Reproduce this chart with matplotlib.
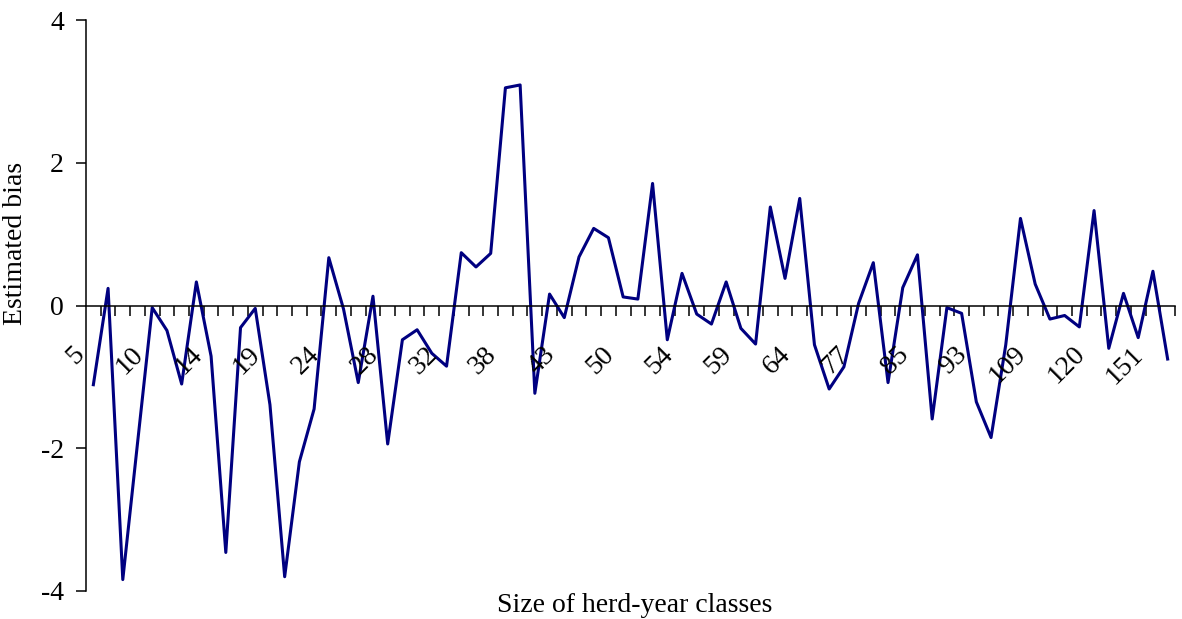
import numpy as np
import matplotlib
matplotlib.use("Agg")
import matplotlib.pyplot as plt
from matplotlib.transforms import ScaledTranslation

plt.rcParams['font.family'] = ['Liberation Serif', 'DejaVu Serif']
plt.rcParams['axes.unicode_minus'] = False

# herd-year class sizes (only every 4th one is labelled on the chart)
herd_sizes = [5, 6, 7, 8, 10, 11, 12, 13, 14, 15, 17, 18, 19, 20, 22, 23,
              24, 25, 26, 27, 28, 29, 30, 31, 32, 33, 35, 36, 38, 39, 40, 42,
              43, 45, 47, 48, 50, 51, 52, 53, 54, 55, 56, 57, 59, 60, 61, 62,
              64, 67, 70, 74, 77, 79, 81, 83, 85, 87, 89, 91, 93, 97, 101, 105,
              109, 111, 114, 117, 120, 128, 135, 143, 151, 170]

bias = [-1.11, 0.24, -3.84, -1.93, -0.03, -0.35, -1.10, 0.33, -0.71, -3.46,
        -0.31, -0.04, -1.39, -3.80, -2.19, -1.45, 0.67, -0.05, -1.08, 0.13,
        -1.94, -0.48, -0.34, -0.67, -0.85, 0.74, 0.54, 0.73, 3.05, 3.09,
        -1.23, 0.16, -0.17, 0.68, 1.08, 0.95, 0.12, 0.09, 1.71, -0.48,
        0.45, -0.12, -0.26, 0.33, -0.32, -0.54, 1.38, 0.38, 1.50, -0.55,
        -1.17, -0.86, 0.03, 0.60, -1.08, 0.25, 0.71, -1.59, -0.03, -0.11,
        -1.35, -1.85, -0.55, 1.22, 0.30, -0.19, -0.14, -0.30, 1.33, -0.60,
        0.17, -0.45, 0.48, -0.75]

x = np.arange(len(bias))

fig = plt.figure(figsize=(11.82, 6.19), dpi=100)
ax = fig.add_axes([86 / 1182, 1 - 591 / 619, 1089 / 1182, 571 / 619])

ax.plot(x, bias, color='#000080', lw=2.2)

ax.set_xlim(-0.5, len(bias) - 0.5)
ax.set_ylim(-4, 4)

ax.spines['top'].set_visible(False)
ax.spines['right'].set_visible(False)
ax.spines['bottom'].set_position(('data', 0))
for s in ('left', 'bottom'):
    ax.spines[s].set_linewidth(1.1)

ax.set_yticks([-4, -2, 0, 2, 4])
ax.tick_params(axis='y', direction='out', length=7, width=1.1, labelsize=20, pad=9)

# ticks between categories, labels every 4th category
ax.set_xticks(np.arange(0.5, len(bias), 1))
ax.set_xticklabels([])
ax.tick_params(axis='x', direction='out', length=7, width=1.1)

offset = ScaledTranslation(-0.13, -0.45, fig.dpi_scale_trans)
for i in range(0, len(herd_sizes), 4):
    ax.text(i, 0, str(herd_sizes[i]), transform=ax.transData + offset,
            rotation=45, rotation_mode='anchor', ha='right', va='center',
            fontsize=20)

ax.set_ylabel('Estimated bias', fontsize=20)
ax.yaxis.set_label_coords(-0.053, 0.609)
ax.set_xlabel('Size of herd-year classes', fontsize=20)
ax.xaxis.set_label_coords(0.504, -0.003)

fig.savefig('out.png', dpi=100)
